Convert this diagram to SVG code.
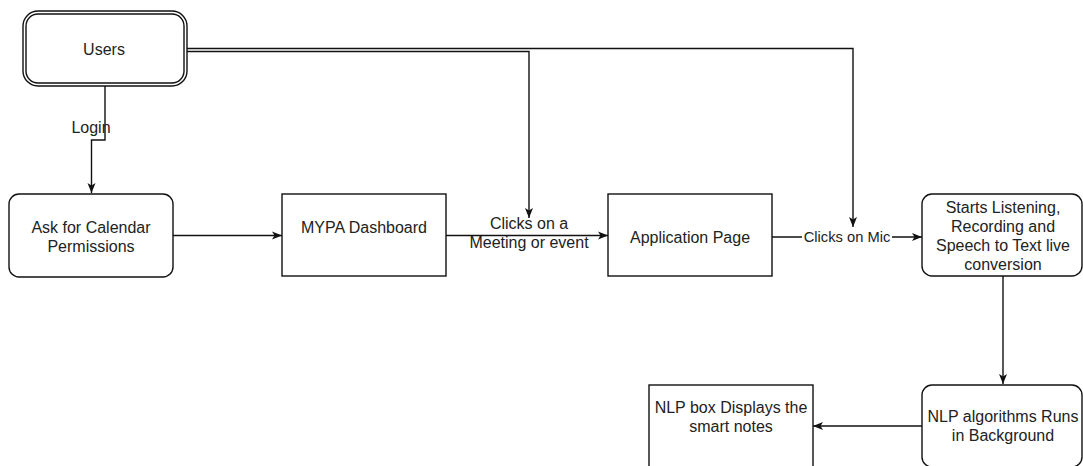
<svg xmlns="http://www.w3.org/2000/svg" width="1083" height="466" viewBox="0 0 1083 466">
  <style>
    .box { fill: #ffffff; stroke: #111111; stroke-width: 1.4; }
    .edge { fill: none; stroke: #111111; stroke-width: 1.4; }
    .t { font-family: "Liberation Sans", Arial, sans-serif; font-size: 16px; fill: #222222; text-anchor: middle; }
    .ts { font-family: "Liberation Sans", Arial, sans-serif; font-size: 14.7px; fill: #222222; text-anchor: middle; }
  </style>
  <defs>
    <marker id="arr" markerUnits="userSpaceOnUse" markerWidth="12" markerHeight="10" refX="10" refY="5" orient="auto">
      <path d="M0,1 L10,5 L0,9 L2.5,5 Z" fill="#111111"/>
    </marker>
  </defs>
  <rect width="1083" height="466" fill="#ffffff"/>

  <g id="connectors">
    <!-- Users -> Ask (Login) -->
    <path class="edge" d="M105,86 V140 H91.5 V193" marker-end="url(#arr)"/>
    <!-- Users -> Clicks on a -->
    <path class="edge" d="M187,51.5 H529 V218" marker-end="url(#arr)"/>
    <!-- Users -> Clicks on Mic -->
    <path class="edge" d="M187,48.5 H853 V227" marker-end="url(#arr)"/>
    <!-- Ask -> MYPA -->
    <path class="edge" d="M173,235.5 H282" marker-end="url(#arr)"/>
    <!-- MYPA -> Application -->
    <path class="edge" d="M446,235.5 H608" marker-end="url(#arr)"/>
    <!-- Application -> Starts -->
    <path class="edge" d="M772,237 H922" marker-end="url(#arr)"/>
    <!-- Starts -> NLP algorithms -->
    <path class="edge" d="M1003,276 V384" marker-end="url(#arr)"/>
    <!-- NLP algorithms -> NLP box -->
    <path class="edge" d="M922,426 H813" marker-end="url(#arr)"/>

    <text class="t" x="91" y="132.5">Login</text>
    <text class="t" x="529" y="229">Clicks on a</text>
    <text class="t" x="529" y="248">Meeting or event</text>
    <rect x="802" y="228" width="90" height="17" fill="#ffffff"/>
    <text class="ts" x="847" y="242">Clicks on Mic</text>
  </g>

  <g id="users">
    <rect class="box" x="23" y="11" width="164" height="75" rx="15" ry="15"/>
    <rect class="box" x="26" y="14" width="158" height="69" rx="12" ry="12"/>
    <text class="t" x="104" y="55">Users</text>
  </g>

  <g id="ask-calendar">
    <rect class="box" x="9" y="194" width="164" height="83" rx="10" ry="10"/>
    <text class="t" x="91" y="232.5">Ask for Calendar</text>
    <text class="t" x="91" y="251.5">Permissions</text>
  </g>

  <g id="mypa-dashboard">
    <rect class="box" x="282" y="194" width="164" height="82"/>
    <text class="t" x="364" y="233">MYPA Dashboard</text>
  </g>

  <g id="application-page">
    <rect class="box" x="608" y="194" width="164" height="82"/>
    <text class="t" x="690" y="243">Application Page</text>
  </g>

  <g id="starts-listening">
    <rect class="box" x="922" y="194" width="160" height="82" rx="10" ry="10"/>
    <text class="t" x="1003" y="213">Starts Listening,</text>
    <text class="t" x="1003" y="232">Recording and</text>
    <text class="t" x="1003" y="251">Speech to Text live</text>
    <text class="t" x="1003" y="270">conversion</text>
  </g>

  <g id="nlp-algorithms">
    <rect class="box" x="922" y="385" width="160" height="82" rx="10" ry="10"/>
    <text class="t" x="1003" y="421.5">NLP algorithms Runs</text>
    <text class="t" x="1003" y="440.5">in Background</text>
  </g>

  <g id="nlp-box">
    <rect class="box" x="649" y="385" width="164" height="100"/>
    <text class="t" x="731" y="413">NLP box Displays the</text>
    <text class="t" x="731" y="432">smart notes</text>
  </g>
</svg>
